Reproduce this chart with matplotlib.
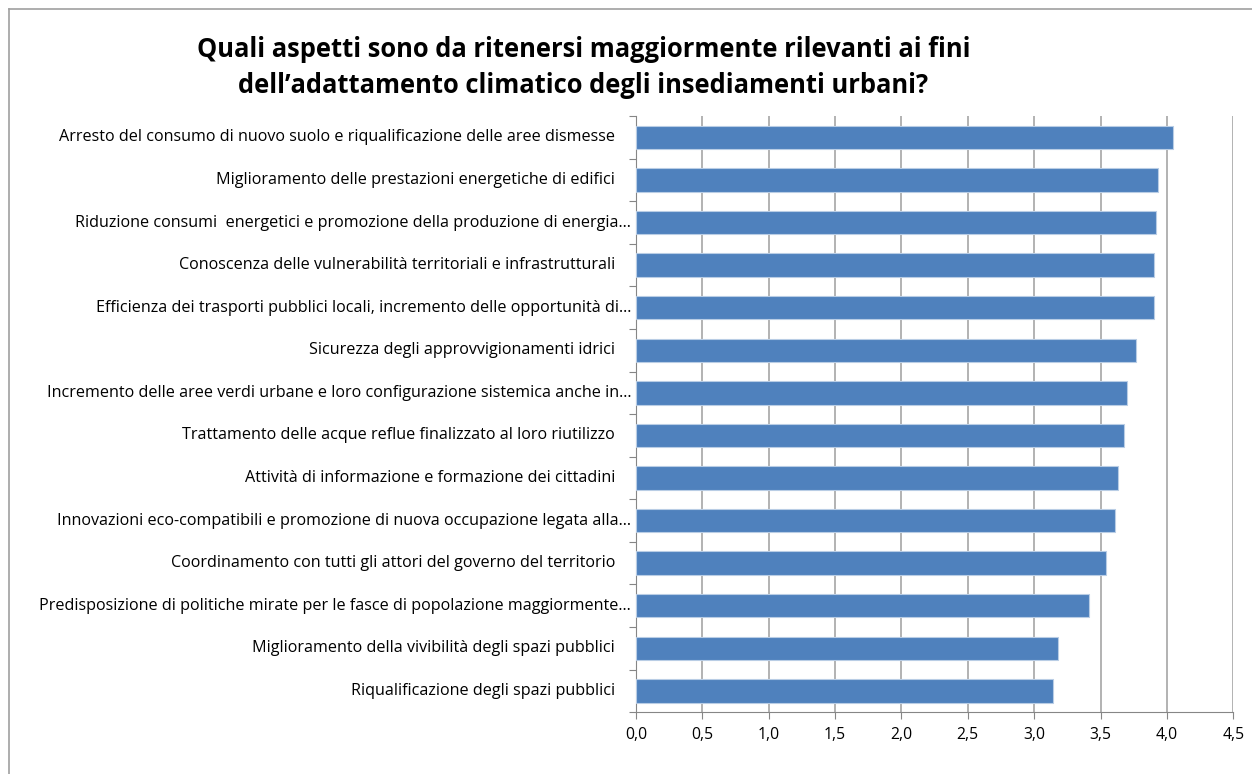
import matplotlib.pyplot as plt
from matplotlib.lines import Line2D

plt.rcParams['font.family'] = ['Open Sans', 'DejaVu Sans']

# Aspects of urban climate adaptation, most relevant first
aspects = [
    'Arresto del consumo di nuovo suolo e riqualificazione delle aree dismesse',
    'Miglioramento delle prestazioni energetiche di edifici',
    'Riduzione consumi  energetici e promozione della produzione di energia…',
    'Conoscenza delle vulnerabilità territoriali e infrastrutturali',
    'Efficienza dei trasporti pubblici locali, incremento delle opportunità di…',
    'Sicurezza degli approvvigionamenti idrici',
    'Incremento delle aree verdi urbane e loro configurazione sistemica anche in…',
    'Trattamento delle acque reflue finalizzato al loro riutilizzo',
    'Attività di informazione e formazione dei cittadini',
    'Innovazioni eco-compatibili e promozione di nuova occupazione legata alla…',
    'Coordinamento con tutti gli attori del governo del territorio',
    'Predisposizione di politiche mirate per le fasce di popolazione maggiormente…',
    'Miglioramento della vivibilità degli spazi pubblici',
    'Riqualificazione degli spazi pubblici',
]
scores = [4.05, 3.93, 3.92, 3.90, 3.90, 3.77, 3.70, 3.68, 3.63, 3.61, 3.54, 3.41, 3.18, 3.14]

x_ticks = [0.0, 0.5, 1.0, 1.5, 2.0, 2.5, 3.0, 3.5, 4.0, 4.5]

fig = plt.figure(figsize=(12.52, 7.74), dpi=100)
ax = fig.add_axes([0.508, 0.080, 0.477, 0.770])

# outer chart frame (left and top edges)
fx, fy = 8.5 / 1252, 1 - 8.5 / 774
fig.add_artist(Line2D([fx, fx], [0, fy], transform=fig.transFigure,
                      color='#a0a0a0', linewidth=1.2))
fig.add_artist(Line2D([fx, 1], [fy, fy], transform=fig.transFigure,
                      color='#a0a0a0', linewidth=1.2))

pos = list(range(len(aspects)))
ax.barh(pos, scores, height=0.55, color='#4f81bd', edgecolor='#b9cde5',
        linewidth=0.8, zorder=3)

ax.set_ylim(len(aspects) - 0.5, -0.5)
ax.set_xlim(0, 4.5)
ax.set_xticks(x_ticks)
ax.set_xticklabels([f'{t:.1f}'.replace('.', ',') for t in x_ticks], fontsize=11.3)

# category ticks sit between the bars
ax.set_yticks([p - 0.5 for p in pos] + [len(aspects) - 0.5])
ax.set_yticklabels([])
ax.tick_params(axis='y', length=5, color='#868686')
ax.tick_params(axis='x', length=5, color='#868686', pad=6)
for p, lab in zip(pos, aspects):
    ends_cut = lab.endswith('…')
    ax.annotate(lab, xy=(0, p), xycoords=('axes fraction', 'data'),
                xytext=(-5 if ends_cut else -21, 0), textcoords='offset pixels',
                ha='right', va='center', fontsize=11.6, color='#000000')

ax.grid(axis='x', color='#a6a6a6', linewidth=1.2, zorder=0)
for side in ['top', 'right']:
    ax.spines[side].set_visible(False)
ax.spines['left'].set_color('#868686')
ax.spines['bottom'].set_color('#868686')

fig.text(0.466, 0.913, 'Quali aspetti sono da ritenersi maggiormente rilevanti ai fini\n'
         'dell’adattamento climatico degli insediamenti urbani?',
         ha='center', va='center', fontsize=18.4, fontweight='bold',
         linespacing=1.45)

fig.savefig('out.png', dpi=100)
